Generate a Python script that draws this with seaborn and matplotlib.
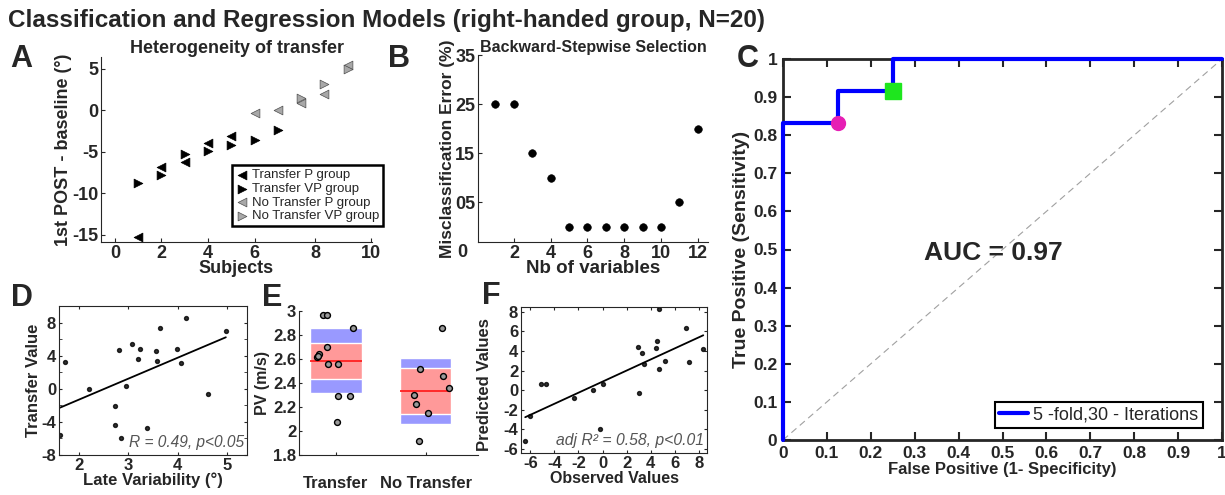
import numpy as np
import pandas as pd
import seaborn as sns
import matplotlib
matplotlib.use('Agg')
from matplotlib import pyplot as plt

# ---- A: heterogeneity of transfer ----
tP_subj = [1, 2, 3, 4, 5]
tP_val = [-15.3, -6.8, -6.2, -4.0, -3.1]
tVP_subj = [1, 2, 3, 4, 5, 6, 7]
tVP_val = [-8.8, -7.8, -5.3, -4.9, -4.2, -3.6, -2.4]
ntP_subj = [6, 7, 8, 9, 10]
ntP_val = [-0.3, 0.0, 0.9, 1.9, 5.4]
ntVP_subj = [8, 9, 10]
ntVP_val = [1.5, 3.1, 4.9]
a_tick_pos = [0, 2, 4, 6, 8.6, 11]
a_tick_lab = ['0', '2', '4', '6', '8', '10']

# ---- B: backward stepwise selection ----
nb_vars = [1, 2, 3, 4, 5, 6, 7, 8, 9, 10, 11, 12]
miscl_err = [25, 25, 15, 10, 0, 0, 0, 0, 0, 0, 5, 20]

# ---- C: ROC ----
roc_fpr = [0, 0, 0.125, 0.125, 0.25, 0.25, 1]
roc_tpr = [0, 0.833, 0.833, 0.917, 0.917, 1, 1]
op_circle = (0.125, 0.833)
op_square = (0.25, 0.917)
auc = 0.97

# ---- D: late variability vs transfer ----
late_var = [1.61, 1.72, 2.2, 2.73, 2.73, 2.8, 2.85, 2.95, 3.07, 3.19,
            3.23, 3.37, 3.57, 3.58, 3.64, 3.99, 4.07, 4.17, 4.62, 4.98]
transfer_val = [-5.6, 3.2, 0.0, -2.1, -4.4, 4.7, -6.0, 0.3, 5.4, 3.6,
                4.8, -4.7, 4.6, 3.4, 7.3, 4.8, 3.1, 8.5, -0.6, 7.0]

# ---- E: peak velocity by group ----
groups = ['Transfer', 'No Transfer']
pv_mean = [2.585, 2.335]
pv_sd = [0.27, 0.275]
pv_ci = [0.152, 0.19]
tr_x = [-0.14, -0.10, 0.19, -0.10, -0.185, -0.21, -0.195, -0.085, 0.02, 0.02, 0.155, 0.01]
tr_pv = [2.97, 2.964, 2.855, 2.696, 2.643, 2.614, 2.622, 2.562, 2.559, 2.293, 2.293, 2.073]
nt_x = [1.185, 0.937, 1.193, 1.256, 0.87, 0.893, 1.026, 0.926]
nt_pv = [2.858, 2.517, 2.455, 2.358, 2.30, 2.226, 2.148, 1.919]

# ---- F: observed vs predicted ----
observed = [-6.42, -6.0, -5.1, -4.68, -2.4, -0.83, 0.05, -0.22, 2.9, 3.0,
            3.25, 3.47, 4.46, 4.55, 4.68, 4.7, 5.18, 6.89, 7.19, 8.35]
predicted = [-5.14, -2.65, 0.65, 0.65, -0.78, 0.07, 0.65, -3.9, 4.4, -0.27,
             3.8, 2.72, 4.35, 5.0, 8.33, 2.18, 2.96, 6.33, 2.89, 4.2]

sns.set_style('ticks')
plt.rcParams['font.family'] = ['Liberation Sans', 'DejaVu Sans']
plt.rcParams['xtick.direction'] = 'in'
plt.rcParams['ytick.direction'] = 'in'
plt.rcParams['axes.unicode_minus'] = False

W, H = 1225, 495
fig = plt.figure(figsize=(W / 100, H / 100), dpi=100)

def px_axes(l, t, r, b):
    return fig.add_axes([l / W, 1 - b / H, (r - l) / W, (b - t) / H])

def style_ticks(ax, size, length=3, width=0.8, **kw):
    ax.tick_params(labelsize=size, length=length, width=width, **kw)
    for lab in ax.get_xticklabels() + ax.get_yticklabels():
        lab.set_fontweight('bold')

fig.text(8 / W, 1 - 27 / H, 'Classification and Regression Models (right-handed group, N=20)',
         fontsize=17.5, fontweight='bold', va='baseline')
for letter, x, y in [('A', 10, 67), ('B', 388, 67), ('C', 737, 67),
                     ('D', 11, 306), ('E', 262, 306), ('F', 482, 304)]:
    fig.text(x / W, 1 - y / H, letter, fontsize=22, fontweight='bold', va='baseline')

# A
axA = px_axes(101, 57, 372, 242)
grey = '#a8a8a8'
sns.scatterplot(x=tP_subj, y=tP_val, marker='<', color='k', edgecolor='k', s=40, ax=axA, label='Transfer P group')
sns.scatterplot(x=tVP_subj, y=tVP_val, marker='>', color='k', edgecolor='k', s=40, ax=axA, label='Transfer VP group')
sns.scatterplot(x=ntP_subj, y=ntP_val, marker='<', color=grey, edgecolor='#505050', s=40, ax=axA, label='No Transfer P group')
sns.scatterplot(x=ntVP_subj, y=ntVP_val, marker='>', color=grey, edgecolor='#505050', s=40, ax=axA, label='No Transfer VP group')
axA.set_xlim(-0.6, 11.05)
axA.set_ylim(-15.85, 6.4)
axA.set_xticks(a_tick_pos)
axA.set_xticklabels(a_tick_lab)
axA.set_yticks([-15, -10, -5, 0, 5])
sns.despine(ax=axA)
style_ticks(axA, 13, pad=2)
axA.set_xlabel('Subjects', fontsize=13, fontweight='bold', labelpad=-1)
axA.set_ylabel('1st POST - baseline (°)', fontsize=13, fontweight='bold', labelpad=0)
axA.set_title('Heterogeneity of transfer', fontsize=13, fontweight='bold', pad=1)
leg = axA.legend(loc='lower left', bbox_to_anchor=(0.483, 0.086), fancybox=False, edgecolor='k',
                 fontsize=9.5, handletextpad=0.2, borderpad=0.3, labelspacing=0.1,
                 handlelength=1.0, borderaxespad=0, framealpha=1)
leg.get_frame().set_linewidth(1.8)

# B
axB = px_axes(478, 55, 708, 242)
sns.scatterplot(x=nb_vars, y=miscl_err, color='k', edgecolor='k', s=30, ax=axB)
axB.set_xlim(0.05, 12.55)
axB.set_ylim(-3.1, 35)
axB.set_xticks([2, 4, 6, 8, 10, 12])
axB.set_yticks([5, 15, 25, 35])
axB.set_yticklabels(['05', '15', '25', '35'])
sns.despine(ax=axB)
style_ticks(axB, 13, pad=2)
axB.text(-0.07, -0.055, '0', transform=axB.transAxes, ha='center', va='center',
         fontsize=13, fontweight='bold')
axB.set_xlabel('Nb of variables', fontsize=13.5, fontweight='bold', labelpad=-1)
axB.set_ylabel('Misclassification Error (%)', fontsize=12.5, fontweight='bold', labelpad=0)
axB.set_title('Backward-Stepwise Selection', fontsize=11.5, fontweight='bold', pad=2)

# C
axC = px_axes(783, 59, 1222, 440)
axC.plot([0, 1], [0, 1], ls=(0, (6, 4)), color='#a0a0a0', lw=0.8)
sns.lineplot(x=roc_fpr, y=roc_tpr, sort=False, estimator=None, color='#0000ff', lw=3,
             ax=axC, label='5 -fold,30 - Iterations', zorder=3, clip_on=False)
axC.plot(*op_circle, 'o', color='#e61fb4', ms=10, zorder=4)
axC.plot(*op_square, 's', color='#1ee61e', ms=11, zorder=4)
axC.set_xlim(0, 1)
axC.set_ylim(0, 1)
ticks = [i / 10 for i in range(11)]
labs = ['0'] + ['%.1f' % t for t in ticks[1:-1]] + ['1']
axC.set_xticks(ticks)
axC.set_xticklabels(labs)
axC.set_yticks(ticks)
axC.set_yticklabels(labs)
axC.tick_params(top=True, right=True, length=6, width=1.5, labelsize=12.5, pad=4)
for lab in axC.get_xticklabels() + axC.get_yticklabels():
    lab.set_fontweight('bold')
for sp in axC.spines.values():
    sp.set_linewidth(2)
axC.set_xlabel('False Positive (1- Specificity)', fontsize=12, fontweight='bold', labelpad=1)
axC.set_ylabel('True Positive (Sensitivity)', fontsize=14, fontweight='bold', labelpad=2)
axC.text(0.478, 0.49, 'AUC = %.2f' % auc, ha='center', va='center', fontsize=19, fontweight='bold')
legC = axC.legend(loc='lower right', bbox_to_anchor=(0.957, 0.031), fancybox=False, edgecolor='k',
                  fontsize=13, handlelength=1.6, handletextpad=0.3,
                  borderpad=0.25, borderaxespad=0, framealpha=1)
legC.get_frame().set_linewidth(1.5)

# D
axD = px_axes(59, 306, 247, 455)
sns.regplot(x=late_var, y=transfer_val, ci=None, ax=axD, color='k',
            scatter_kws={'s': 8}, line_kws={'lw': 1.3})
axD.set_xlim(1.59, 5.41)
axD.set_ylim(-8, 10)
axD.set_xticks([2, 3, 4, 5])
axD.set_yticks([-8, -4, 0, 4, 8])
axD.set_yticks([-6, -2, 2, 6, 10], minor=True)
axD.tick_params(which='both', top=True, right=True)
style_ticks(axD, 12, length=2.5, pad=2)
axD.tick_params(which='minor', length=2.5)
axD.set_xlabel('Late Variability (°)', fontsize=12, fontweight='bold', labelpad=0)
axD.set_ylabel('Transfer Value', fontsize=12, fontweight='bold', labelpad=0)
axD.text(0.985, 0.035, 'R = 0.49, p<0.05', transform=axD.transAxes, ha='right', va='bottom',
         fontsize=11.2, style='italic', color='#555555')

# E
axE = px_axes(299, 311, 478, 455)
xpos = [0, 1]
axE.bar(xpos, [2 * s for s in pv_sd], bottom=[m - s for m, s in zip(pv_mean, pv_sd)],
        width=0.57, color='#9999ff', zorder=1)
axE.bar(xpos, [2 * c for c in pv_ci], bottom=[m - c for m, c in zip(pv_mean, pv_ci)],
        width=0.57, color='#ff9999', zorder=2)
for x, m in zip(xpos, pv_mean):
    axE.hlines(m, x - 0.285, x + 0.285, color='#ff2020', lw=1.3, zorder=3)
sns.scatterplot(x=tr_x + nt_x, y=tr_pv + nt_pv, color='#9a9a9a', edgecolor='k',
                linewidth=1, s=18, ax=axE, zorder=4)
axE.set_xlim(-0.41, 1.58)
axE.set_ylim(1.8, 3.0)
axE.set_xticks(xpos)
axE.set_xticklabels(groups)
axE.set_yticks([1.8, 2.0, 2.2, 2.4, 2.6, 2.8, 3.0])
axE.set_yticklabels(['1.8', '2', '2.2', '2.4', '2.6', '2.8', '3'])
sns.despine(ax=axE)
style_ticks(axE, 12, length=2.5, pad=2)
axE.tick_params(axis='x', pad=15, labelsize=12)
axE.set_ylabel('PV (m/s)', fontsize=11.5, fontweight='bold', labelpad=2)

# F
axF = px_axes(521, 307, 707, 453)
sns.regplot(x=observed, y=predicted, ci=None, ax=axF, color='k',
            scatter_kws={'s': 8}, line_kws={'lw': 1.3})
axF.set_xlim(-6.77, 8.66)
axF.set_ylim(-6.4, 8.5)
axF.set_xticks([-6, -4, -2, 0, 2, 4, 6, 8])
axF.set_yticks([-6, -4, -2, 0, 2, 4, 6, 8])
axF.tick_params(top=True, right=True)
style_ticks(axF, 12, length=2.5, pad=2)
axF.set_xlabel('Observed Values', fontsize=11.5, fontweight='bold', labelpad=0)
axF.set_ylabel('Predicted Values', fontsize=12, fontweight='bold', labelpad=0)
axF.yaxis.set_label_coords(-0.155, 0.47)
axF.text(0.985, 0.035, 'adj R² = 0.58, p<0.01', transform=axF.transAxes, ha='right', va='bottom',
         fontsize=11.3, style='italic', color='#555555')

fig.savefig('out.png', dpi=100)
